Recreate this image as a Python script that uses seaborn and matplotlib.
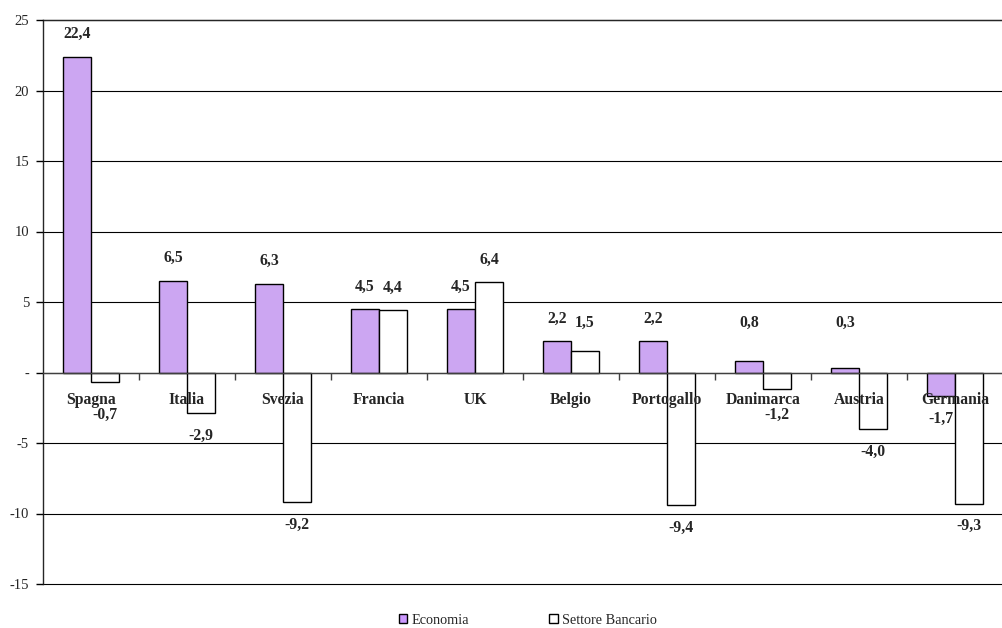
import matplotlib
matplotlib.use("Agg")
import matplotlib.pyplot as plt
import seaborn as sns
import pandas as pd
import numpy as np

# Variazione percentuale per paese: economia vs settore bancario
paesi = ["Spagna", "Italia", "Svezia", "Francia", "UK", "Belgio",
         "Portogallo", "Danimarca", "Austria", "Germania"]
economia = [22.4, 6.5, 6.3, 4.5, 4.5, 2.2, 2.2, 0.8, 0.3, -1.7]
settore_bancario = [-0.7, -2.9, -9.2, 4.4, 6.4, 1.5, -9.4, -1.2, -4.0, -9.3]
serie = ["Economia", "Settore Bancario"]
y_ticks = [-15, -10, -5, 0, 5, 10, 15, 20, 25]

df = pd.DataFrame({
    "Paese": paesi * 2,
    "Serie": [serie[0]] * len(paesi) + [serie[1]] * len(paesi),
    "Valore": economia + settore_bancario,
})

sns.set_style("white")
plt.rcParams["font.family"] = ["Liberation Serif", "DejaVu Serif"]
plt.rcParams["axes.unicode_minus"] = False

fig = plt.figure(figsize=(10.03, 6.28), dpi=100)
ax = fig.add_axes([43 / 1003, 1 - 584 / 628, 960 / 1003, 564 / 628])

sns.barplot(data=df, x="Paese", y="Valore", hue="Serie", order=paesi,
            hue_order=serie, palette={"Economia": "#CC99FF",
                                      "Settore Bancario": "white"},
            edgecolor="black", linewidth=1.0, width=0.58, gap=0,
            legend=False, ax=ax, zorder=2)
ax.set_axisbelow(False)

def fmt(v):
    return f"{v:.1f}".replace(".", ",")

# value labels: offset from the bar end, kept clear of the category names
OFFSET = 1.6
for cont, vals in zip(ax.containers, [economia, settore_bancario]):
    for bar, v in zip(cont.patches, vals):
        xc = bar.get_x() + bar.get_width() / 2
        if v >= 0:
            yl = max(v + OFFSET, 3.5)
        else:
            yl = min(v - OFFSET, -3.0)
        ax.text(xc, yl, fmt(v), ha="center", va="center", fontsize=11.3,
                fontweight="bold", zorder=6)

ax.set_xlim(-0.5, len(paesi) - 0.5)
ax.set_ylim(y_ticks[0], y_ticks[-1])
ax.set_yticks(y_ticks)
ax.set_yticklabels(["-" if t == 0 else str(t) for t in y_ticks], fontsize=10.5)
ax.tick_params(axis="y", direction="out", length=5, width=1, color="black",
               pad=5, left=True)

# horizontal gridlines
for t in y_ticks:
    ax.axhline(t, color="black", lw=0.8, zorder=0, clip_on=False)

# category axis on the zero line
ax.spines["bottom"].set_position(("data", 0))
ax.spines["bottom"].set_color("#404040")
ax.spines["bottom"].set_linewidth(1.0)
ax.spines["bottom"].set_zorder(3)
ax.spines["right"].set_visible(False)
ax.spines["top"].set_linewidth(1.0)
ax.spines["left"].set_linewidth(1.0)
ax.set_xticks(range(len(paesi)))
ax.set_xticklabels(paesi, fontsize=11.3, fontweight="bold")
ax.set_xticks(np.arange(0.5, len(paesi) - 0.5, 1.0), minor=True)
ax.tick_params(axis="x", which="major", length=0, pad=14, bottom=True)
ax.tick_params(axis="x", which="minor", length=5, width=1, color="#404040",
               direction="out", bottom=True)
ax.set_xlabel("")
ax.set_ylabel("")

handles = [plt.Rectangle((0, 0), 1, 1, facecolor="#CC99FF", edgecolor="black", lw=1),
           plt.Rectangle((0, 0), 1, 1, facecolor="white", edgecolor="black", lw=1)]
fig.legend(handles, serie, loc="center", bbox_to_anchor=(528 / 1003, 1 - 620 / 628),
           ncol=2, frameon=False, fontsize=10.3, handlelength=0.6,
           handleheight=0.6, handletextpad=0.3, columnspacing=5.6,
           borderpad=0.1)

fig.savefig("out.png", dpi=100)
